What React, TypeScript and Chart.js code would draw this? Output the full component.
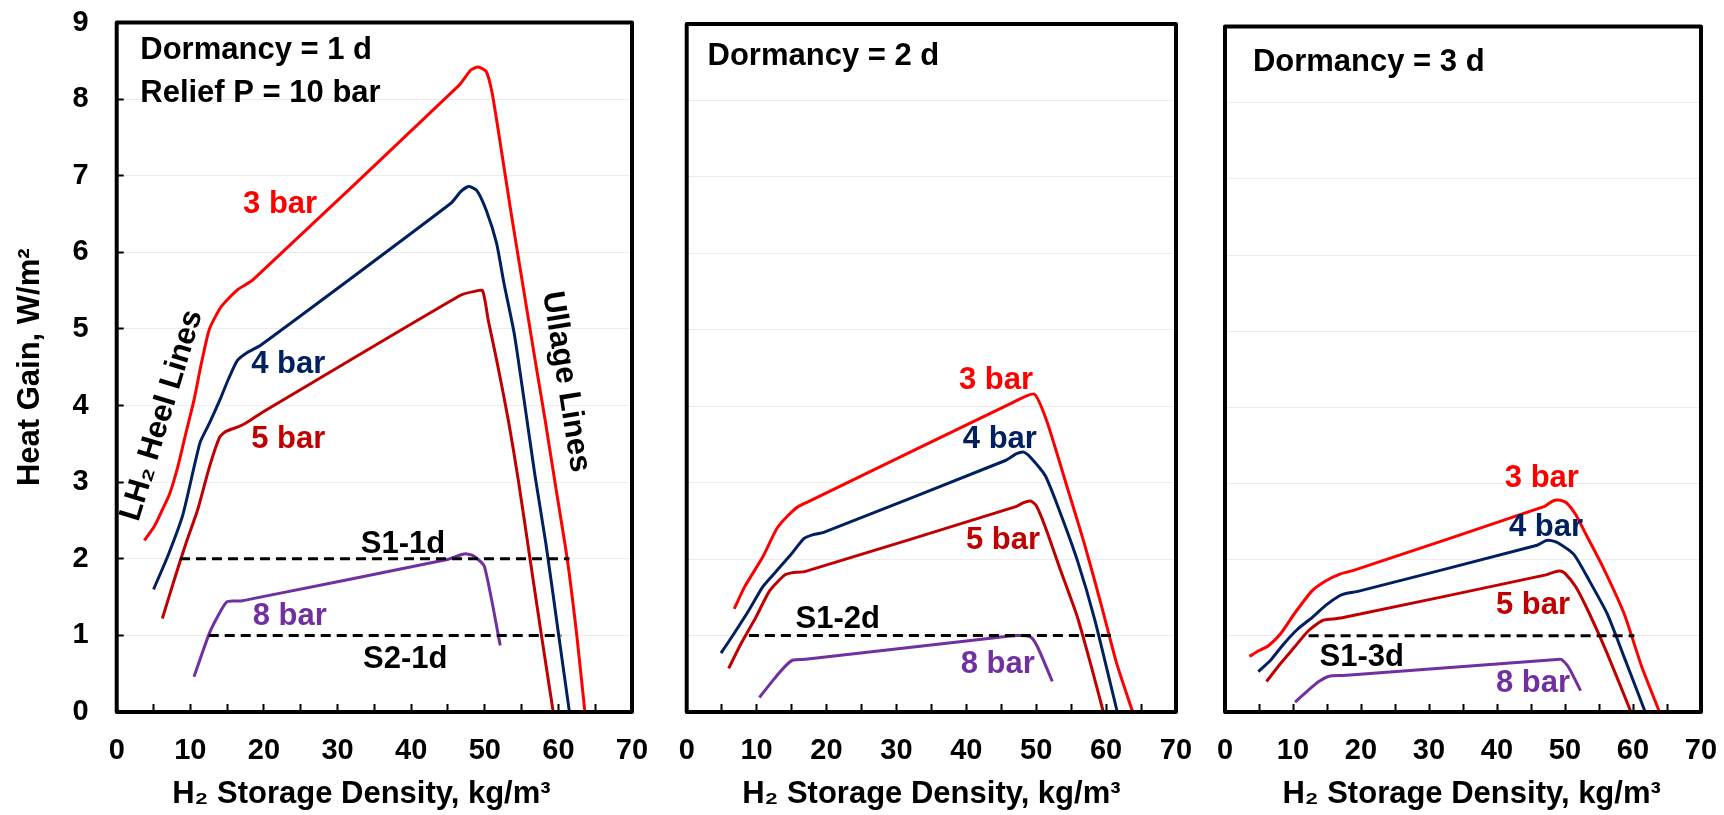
import React, { useEffect, useRef } from 'react';
import { Chart, registerables } from 'chart.js';

Chart.register(...registerables);

type Pt = [number, number];

// ---------------- data (x: H2 storage density kg/m3, y: heat gain W/m2) ----------------
// Dormancy = 1 d
const d1Bar3: Pt[] = [[3.75, 2.24], [5.1, 2.42], [6.2, 2.64], [7.2, 2.85], [8.3, 3.2], [9.4, 3.64], [10.5, 4.07], [11.5, 4.55], [12.6, 5.0], [14.2, 5.29], [16.4, 5.51], [18.5, 5.64], [46.5, 8.18], [48.1, 8.38], [49.1, 8.42], [50.2, 8.36], [51.0, 8.08], [51.9, 7.55], [53.6, 6.5], [55.3, 5.5], [57.0, 4.5], [58.2, 3.81], [59.7, 2.9], [61.2, 2.0], [62.5, 1.0], [63.6, 0]];
const d1Bar4: Pt[] = [[5.0, 1.6], [7.0, 2.05], [9.0, 2.58], [11.3, 3.51], [12.6, 3.77], [14.0, 4.07], [15.2, 4.35], [16.4, 4.59], [17.7, 4.69], [19.6, 4.79], [45.4, 6.64], [46.7, 6.79], [47.8, 6.86], [48.9, 6.81], [50.2, 6.55], [51.6, 6.12], [52.6, 5.6], [54.0, 4.94], [55.3, 4.1], [56.8, 3.1], [58.3, 2.2], [59.9, 1.1], [61.5, 0]];
const d1Bar5: Pt[] = [[6.2, 1.22], [7.8, 1.72], [9.4, 2.2], [11.0, 2.64], [12.6, 3.2], [14.0, 3.59], [14.8, 3.66], [16.4, 3.72], [17.5, 3.77], [19.6, 3.9], [46.7, 5.44], [48.6, 5.49], [49.7, 5.5], [50.5, 5.1], [51.6, 4.6], [53.2, 3.81], [54.6, 3.0], [56.1, 2.03], [57.7, 1.0], [59.3, 0]];
const d1Bar8: Pt[] = [[10.5, 0.46], [12.6, 1.03], [14.2, 1.33], [15.0, 1.44], [15.8, 1.45], [16.9, 1.45], [18.5, 1.48], [44.9, 1.99], [47.0, 2.06], [47.8, 2.06], [48.6, 2.03], [49.95, 1.9], [52.1, 0.87]];
const d1S1: Pt[] = [[8.6, 2], [61.5, 2]];
const d1S2: Pt[] = [[12.5, 1], [60.4, 1]];

// Dormancy = 2 d
const d2Bar3: Pt[] = [[6.8, 1.35], [8.3, 1.64], [10.9, 2.03], [12.9, 2.4], [14.5, 2.57], [16.0, 2.69], [18.3, 2.79], [46.7, 4.05], [49.7, 4.16], [51.5, 3.81], [54.3, 2.98], [56.9, 2.2], [59.4, 1.37], [61.5, 0.64], [63.8, 0]];
const d2Bar4: Pt[] = [[4.9, 0.77], [6.8, 1.03], [8.9, 1.33], [10.9, 1.64], [12.9, 1.85], [15.0, 2.07], [16.8, 2.27], [18.1, 2.32], [19.6, 2.35], [45.6, 3.29], [47.2, 3.38], [48.2, 3.4], [49.2, 3.33], [51.3, 3.09], [53.3, 2.64], [55.9, 1.98], [58.4, 1.2], [61.6, 0]];
const d2Bar5: Pt[] = [[6.0, 0.57], [7.8, 0.9], [9.9, 1.24], [11.9, 1.59], [14.0, 1.79], [15.0, 1.82], [17.0, 1.84], [47.2, 2.69], [48.2, 2.74], [49.2, 2.76], [50.0, 2.7], [51.3, 2.42], [53.3, 1.9], [55.9, 1.24], [57.9, 0.59], [59.6, 0]];
const d2Bar8: Pt[] = [[10.4, 0.19], [12.4, 0.42], [14.0, 0.59], [15.2, 0.68], [17.0, 0.69], [44.1, 0.97], [47.2, 1.0], [49.2, 0.98], [50.2, 0.85], [52.3, 0.4]];
const d2S1: Pt[] = [[8.9, 1], [61.5, 1]];

// Dormancy = 3 d
const d3Bar3: Pt[] = [[3.6, 0.73], [5.1, 0.81], [6.4, 0.87], [8.2, 1.03], [10.2, 1.29], [12.8, 1.59], [14.8, 1.72], [16.9, 1.81], [18.9, 1.86], [47.0, 2.7], [48.2, 2.77], [49.3, 2.78], [50.3, 2.74], [51.6, 2.59], [53.1, 2.33], [55.6, 1.9], [58.7, 1.29], [61.3, 0.59], [63.9, 0]];
const d3Bar4: Pt[] = [[4.9, 0.53], [6.7, 0.68], [8.7, 0.9], [10.7, 1.09], [12.8, 1.24], [14.8, 1.4], [16.9, 1.53], [17.9, 1.56], [19.4, 1.58], [45.9, 2.19], [47.2, 2.25], [48.0, 2.25], [49.0, 2.22], [51.3, 2.07], [53.6, 1.72], [56.2, 1.29], [58.7, 0.72], [61.8, 0]];
const d3Bar5: Pt[] = [[6.1, 0.4], [8.2, 0.64], [10.2, 0.85], [12.3, 1.07], [14.3, 1.2], [15.8, 1.22], [17.4, 1.24], [47.2, 1.8], [48.5, 1.84], [49.3, 1.85], [50.0, 1.82], [51.6, 1.64], [53.6, 1.29], [56.2, 0.77], [59.7, 0]];
const d3Bar8: Pt[] = [[10.3, 0.13], [12.3, 0.29], [13.8, 0.4], [15.3, 0.47], [17.4, 0.48], [48.8, 0.69], [49.5, 0.69], [50.5, 0.59], [52.3, 0.28]];
const d3S1: Pt[] = [[12.3, 1], [60.2, 1]];

const xMin = 0;
const xMax = 70;
const xStep = 5;
const xLabelStep = 10;
const yMin = 0;
const yMax = 9;
const yStep = 1;

const yTitle = 'Heat Gain, W/m\u00B2';
const xTitle = 'H\u2082 Storage Density, kg/m\u00B3';

// ---------------- styles ----------------
const FONT = '"Liberation Sans", Arial, Helvetica, sans-serif';
const RED = '#FF0000';
const NAVY = '#002060';
const DRED = '#C00000';
const PURPLE = '#7030A0';
const BLACK = '#000000';

type Series = { data: Pt[]; color: string; dashed?: boolean };
type Label = { text: string; x: number; y: number; color: string; align?: CanvasTextAlign; baseline?: CanvasTextBaseline; rot?: number; size?: number };

type PanelCfg = {
  left: number;
  width: number;
  yAxisWidth: number;
  padRight: number;
  padTop: number;
  showY: boolean;
  xTitleText: string;
  series: Series[];
  labels: Label[];
};

const panels: PanelCfg[] = [
  {
    left: 0, width: 660, yAxisWidth: 116.7, padRight: 28, padTop: 22.5, showY: true, xTitleText: xTitle + '   ',
    series: [
      { data: d1S1, color: BLACK, dashed: true },
      { data: d1S2, color: BLACK, dashed: true },
      { data: d1Bar3, color: RED },
      { data: d1Bar4, color: NAVY },
      { data: d1Bar5, color: DRED },
      { data: d1Bar8, color: PURPLE },
    ],
    labels: [
      { text: 'Dormancy = 1 d', x: 3.2, y: 8.52, color: BLACK, align: 'left' },
      { text: 'Relief P = 10 bar', x: 3.2, y: 7.96, color: BLACK, align: 'left' },
      { text: '3 bar', x: 22.2, y: 6.51, color: RED },
      { text: '4 bar', x: 23.3, y: 4.42, color: NAVY },
      { text: '5 bar', x: 23.3, y: 3.45, color: DRED },
      { text: '8 bar', x: 23.5, y: 1.14, color: PURPLE },
      { text: 'S1-1d', x: 38.9, y: 2.08, color: BLACK },
      { text: 'S2-1d', x: 39.2, y: 0.57, color: BLACK },
      { text: 'LH\u2082 Heel Lines', x: 6.15, y: 3.87, color: BLACK, baseline: 'middle', rot: -73 },
      { text: 'Ullage Lines', x: 61.0, y: 4.31, color: BLACK, baseline: 'middle', rot: 81 },
    ],
  },
  {
    left: 660, width: 540, yAxisWidth: 26.7, padRight: 24, padTop: 24, showY: false, xTitleText: xTitle,
    series: [
      { data: d2S1, color: BLACK, dashed: true },
      { data: d2Bar3, color: RED },
      { data: d2Bar4, color: NAVY },
      { data: d2Bar5, color: DRED },
      { data: d2Bar8, color: PURPLE },
    ],
    labels: [
      { text: 'Dormancy = 2 d', x: 2.98, y: 8.47, color: BLACK, align: 'left' },
      { text: '3 bar', x: 44.25, y: 4.23, color: RED },
      { text: '4 bar', x: 44.8, y: 3.45, color: NAVY },
      { text: '5 bar', x: 45.25, y: 2.13, color: DRED },
      { text: 'S1-2d', x: 21.6, y: 1.1, color: BLACK },
      { text: '8 bar', x: 44.5, y: 0.51, color: PURPLE },
    ],
  },
  {
    left: 1200, width: 524, yAxisWidth: 25, padRight: 23, padTop: 26.5, showY: false, xTitleText: '  ' + xTitle,
    series: [
      { data: d3S1, color: BLACK, dashed: true },
      { data: d3Bar3, color: RED },
      { data: d3Bar4, color: NAVY },
      { data: d3Bar5, color: DRED },
      { data: d3Bar8, color: PURPLE },
    ],
    labels: [
      { text: 'Dormancy = 3 d', x: 4.1, y: 8.41, color: BLACK, align: 'left' },
      { text: '3 bar', x: 46.6, y: 2.96, color: RED },
      { text: '4 bar', x: 47.2, y: 2.31, color: NAVY },
      { text: '5 bar', x: 45.3, y: 1.29, color: DRED },
      { text: 'S1-3d', x: 20.1, y: 0.61, color: BLACK },
      { text: '8 bar', x: 45.3, y: 0.26, color: PURPLE },
    ],
  },
];

const H = 815;
const X_AXIS_H = 103;
const LABEL_SIZE = 31;

function makeLabelPlugin(labels: Label[]) {
  return {
    id: 'panelLabels',
    afterDatasetsDraw(chart: any) {
      const { ctx, scales } = chart;
      const xs = scales.x;
      const ys = scales.y;
      labels.forEach((l) => {
        ctx.save();
        ctx.font = `bold ${l.size ?? LABEL_SIZE}px ${FONT}`;
        ctx.fillStyle = l.color;
        ctx.textAlign = l.align ?? 'center';
        ctx.textBaseline = l.baseline ?? 'alphabetic';
        ctx.translate(xs.getPixelForValue(l.x), ys.getPixelForValue(l.y));
        if (l.rot) ctx.rotate((l.rot * Math.PI) / 180);
        ctx.fillText(l.text, 0, 0);
        ctx.restore();
      });
    },
  };
}

const framePlugin = {
  id: 'panelFrame',
  afterDraw(chart: any) {
    const { ctx, chartArea } = chart;
    ctx.save();
    ctx.strokeStyle = BLACK;
    ctx.lineWidth = 4;
    ctx.lineJoin = 'round';
    ctx.strokeRect(chartArea.left, chartArea.top, chartArea.right - chartArea.left, chartArea.bottom - chartArea.top);
    ctx.restore();
  },
};

function Panel({ cfg }: { cfg: PanelCfg }) {
  const ref = useRef<HTMLCanvasElement>(null);
  useEffect(() => {
    const canvas = ref.current;
    if (!canvas) return;
    const tickFont = { family: FONT, size: 29, weight: 'bold' as const };
    const titleFont = { family: FONT, size: 31, weight: 'bold' as const };
    const chart = new Chart(canvas, {
      type: 'line',
      data: {
        datasets: cfg.series.map((s) => ({
          data: s.data.map(([x, y]) => ({ x, y })),
          borderColor: s.color,
          backgroundColor: s.color,
          borderWidth: 3,
          borderDash: s.dashed ? [10, 6] : [],
          pointRadius: 0,
          fill: false,
          tension: s.dashed ? 0 : 0.2,
        })),
      },
      options: {
        animation: false,
        responsive: false,
        devicePixelRatio: 1,
        layout: { padding: { left: 0, top: cfg.padTop, right: cfg.padRight, bottom: 0 } },
        plugins: { legend: { display: false }, tooltip: { enabled: false } },
        scales: {
          x: {
            type: 'linear',
            min: xMin,
            max: xMax,
            ticks: {
              stepSize: xStep,
              autoSkip: false,
              maxRotation: 0,
              padding: 30,
              color: BLACK,
              font: tickFont,
              callback: (v: any) => (Number(v) % xLabelStep === 0 ? String(v) : ''),
            },
            grid: { drawOnChartArea: false, drawTicks: true, tickLength: -8, tickColor: BLACK, tickWidth: 2, color: 'rgba(0,0,0,0)' },
            border: { display: false },
            title: { display: true, text: cfg.xTitleText, color: BLACK, font: titleFont, padding: { top: 0, bottom: 2 } },
            afterFit: (s: any) => {
              s.height = X_AXIS_H;
              s.paddingLeft = 0;
              s.paddingRight = 0;
            },
          },
          y: {
            type: 'linear',
            min: yMin,
            max: yMax,
            ticks: { stepSize: yStep, display: cfg.showY, padding: 35, color: BLACK, font: tickFont },
            grid: { color: '#ececec', lineWidth: 1, drawTicks: cfg.showY, tickLength: -7, tickColor: BLACK, tickWidth: 2 },
            border: { display: false },
            title: { display: cfg.showY, text: yTitle, color: BLACK, font: titleFont, padding: { top: 12, bottom: 0 } },
            afterFit: (s: any) => {
              s.width = cfg.yAxisWidth;
              s.paddingTop = 0;
              s.paddingBottom = 0;
            },
          },
        },
      } as any,
      plugins: [makeLabelPlugin(cfg.labels), framePlugin],
    });
    return () => chart.destroy();
  }, [cfg]);
  return (
    <div style={{ position: 'absolute', left: cfg.left, top: 0, width: cfg.width, height: H }}>
      <canvas ref={ref} width={cfg.width} height={H} style={{ width: cfg.width, height: H, display: 'block' }} />
    </div>
  );
}

export default function App() {
  return (
    <div style={{ position: 'fixed', left: 0, top: 0, width: 1724, height: H, background: '#ffffff', overflow: 'hidden' }}>
      {panels.map((p, i) => (
        <Panel key={i} cfg={p} />
      ))}
    </div>
  );
}
